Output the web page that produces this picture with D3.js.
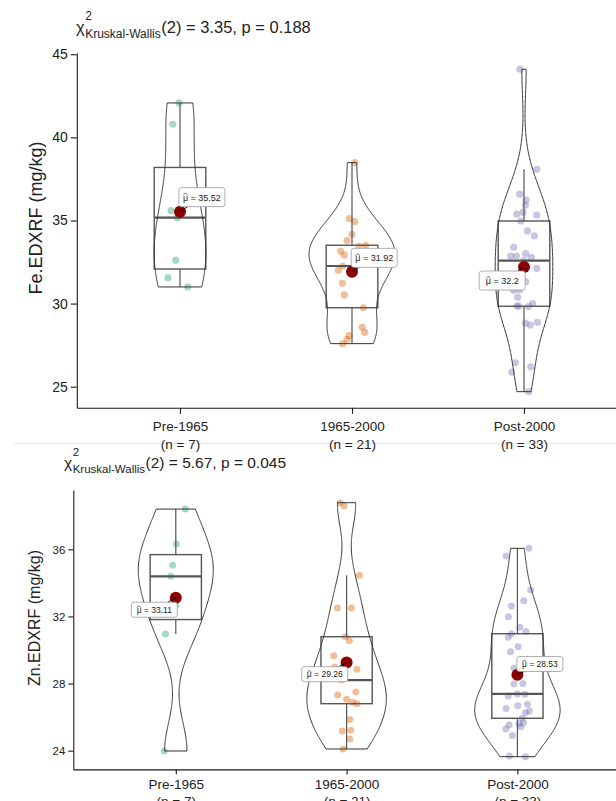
<!DOCTYPE html>
<html>
<head>
<meta charset="utf-8">
<script src="https://cdn.jsdelivr.net/npm/d3@7/dist/d3.min.js"></script>
<style>
html,body{margin:0;padding:0;background:#fff;}
svg{display:block;}
text{font-family:"Liberation Sans",Arial,Helvetica,sans-serif;fill:#222;}
</style>
</head>
<body>
<svg id="chart" width="616" height="801"></svg>
<script>
// ---------------- data ----------------
const categories = ["Pre-1965", "1965-2000", "Post-2000"];
const sampleSizes = [7, 21, 33];

// Fe.EDXRF (mg/kg)
const fePre  = [42.07, 40.79, 35.59, 35.17, 32.6, 31.56, 31.0];
const feMid  = [38.48, 35.11, 34.93, 34.17, 33.79, 33.51, 33.15, 32.92, 32.26, 32.0, 31.22, 30.52, 29.75, 28.57, 28.27, 28.07, 27.85, 27.59, 33.45, 32.7, 32.01];
const fePost = [44.1, 38.08, 36.58, 36.23, 35.93, 35.39, 35.33, 34.97, 34.37, 34.07, 33.39, 32.86, 32.86, 32.78, 32.12, 31.32, 30.82, 30.38, 29.86, 29.82, 28.82, 28.71, 28.87, 26.44, 25.88, 26.2, 24.7, 35.5, 33.0, 32.58, 30.8, 30.0, 29.84];
const feMeans = [35.52, 31.92, 32.2];
const feTest = ["3.35", "0.188"];
const feTicks = [25, 30, 35, 40, 45];

// Zn.EDXRF (mg/kg)
const znPre  = [38.4, 36.32, 35.05, 34.39, 32.67, 30.96, 23.98];
const znMid  = [38.78, 38.6, 34.45, 32.5, 32.5, 30.79, 30.55, 29.66, 28.85, 27.32, 27.5, 27.06, 26.88, 26.8, 25.85, 25.17, 25.21, 24.69, 24.1, 28.99, 28.21];
const znPost = [36.06, 35.6, 33.57, 32.94, 32.62, 31.98, 31.35, 30.97, 30.76, 30.2, 28.91, 28.01, 27.26, 27.36, 26.52, 26.68, 26.76, 26.36, 26.26, 25.93, 25.67, 25.53, 25.29, 25.43, 23.68, 23.64, 31.1, 29.9, 29.3, 27.97, 27.38, 25.6, 24.9];
const znMeans = [33.11, 29.26, 28.53];
const znTest = ["5.67", "0.045"];
const znTicks = [24, 28, 32, 36];

// horizontal jitter of each point (fraction of category step)
const feJitPre  = [-0.006, -0.042, -0.052, -0.016, -0.025, -0.07, 0.045];
const feJitMid  = [0.016, -0.016, 0.016, 0.0, -0.029, 0.08, -0.066, -0.045, -0.054, -0.08, -0.056, -0.045, 0.066, 0.06, 0.074, -0.017, -0.029, -0.054, 0.04, 0.03, 0.01];
const feJitPost = [-0.023, 0.074, -0.025, 0.012, 0.008, -0.042, 0.074, -0.019, 0.02, 0.06, -0.06, -0.077, -0.044, 0.043, 0.074, 0.01, -0.025, -0.037, -0.041, 0.026, 0.008, 0.037, 0.078, -0.05, -0.072, 0.039, 0.027, -0.005, 0.01, 0.0, -0.06, 0.05, -0.03];
const znJitPre  = [0.056, 0.004, -0.018, -0.029, 0.0, -0.061, -0.068];
const znJitMid  = [-0.038, -0.015, 0.075, -0.054, 0.028, -0.007, 0.016, -0.075, 0.06, -0.052, 0.054, 0.0, 0.034, 0.061, 0.019, -0.025, 0.025, 0.019, -0.02, -0.07, -0.03];
const znJitPost = [0.067, -0.066, 0.078, 0.037, -0.035, -0.053, 0.014, -0.035, -0.054, 0.004, -0.02, 0.032, -0.053, 0.043, -0.066, 0.002, 0.059, 0.07, 0.047, 0.028, 0.035, -0.049, -0.068, 0.02, -0.047, 0.047, 0.05, -0.04, 0.06, -0.02, 0.0, 0.01, -0.03];

// ---------------- styles / layout ----------------
const colors = ["#1B9E77", "#D95F02", "#7570B3"];
const svg = d3.select("#chart");

function bwNrd0(x) {
  const s = [...x].sort(d3.ascending);
  const sd = d3.deviation(s);
  const iqr = d3.quantile(s, 0.75) - d3.quantile(s, 0.25);
  let lo = Math.min(sd, iqr / 1.34);
  if (!(lo > 0)) lo = sd || Math.abs(s[0]) || 1;
  return 0.9 * lo * Math.pow(s.length, -0.2);
}
function kde(x, bw, n = 256) {
  const [lo, hi] = d3.extent(x);
  const out = [];
  const k = 1 / (x.length * bw * Math.sqrt(2 * Math.PI));
  for (let i = 0; i < n; i++) {
    const t = lo + (hi - lo) * i / (n - 1);
    let s = 0;
    for (const v of x) { const z = (t - v) / bw; s += Math.exp(-0.5 * z * z); }
    out.push([t, s * k]);
  }
  return out;
}

function statTitle(p, test) {
  const g = svg.append("g").attr("transform", `translate(${p.titleX},${p.titleY})`);
  const chi = g.append("text").attr("font-size", p.titleFs).text("χ");
  const w1 = chi.node().getComputedTextLength();
  g.append("text").attr("x", w1 + 0.5).attr("y", -p.titleFs * 0.78).attr("font-size", p.subFs).text("2");
  const sub = g.append("text").attr("x", w1 + 0.5).attr("y", p.titleFs * 0.32).attr("font-size", p.subFs).text("Kruskal-Wallis");
  const w2 = sub.node().getComputedTextLength();
  g.append("text").attr("x", w1 + 0.5 + w2 + 0.5).attr("font-size", p.titleFs)
    .text(`(2) = ${test[0]}, p = ${test[1]}`);
}

function meanLabel(g, mx, my, off, p, val) {
  const w = p.labW, h = p.labH, fs = p.labFs;
  const cx = mx + off[0], cy = my + off[1];
  const rx0 = cx - w / 2, rx1 = cx + w / 2, ry0 = cy - h / 2, ry1 = cy + h / 2;
  const ddx = cx - mx, ddy = cy - my;
  const tx = ddx > 0 ? (rx0 - mx) / ddx : (rx1 - mx) / ddx;
  const ty = ddy > 0 ? (ry0 - my) / ddy : (ry1 - my) / ddy;
  const t = Math.max(0, Math.min(1, Math.max(tx, ty)));
  g.append("line").attr("x1", mx).attr("y1", my)
    .attr("x2", mx + ddx * t).attr("y2", my + ddy * t)
    .attr("stroke", "#000").attr("stroke-width", 0.9);
  g.append("rect").attr("x", rx0).attr("y", ry0).attr("width", w).attr("height", h)
    .attr("rx", 2.5).attr("fill", "#fff").attr("stroke", "#9a9a9a").attr("stroke-width", 0.8);
  const txt = g.append("text").attr("x", cx).attr("y", cy + fs * 0.38)
    .attr("text-anchor", "middle").attr("font-size", fs).text("μ = " + val);
  const node = txt.node();
  const sp = node.getStartPositionOfChar(0);
  const mw = node.getSubStringLength(0, 1);
  g.append("path")
    .attr("d", `M${sp.x + 0.4},${sp.y - fs * 0.6} L${sp.x + mw / 2},${sp.y - fs * 0.86} L${sp.x + mw - 0.4},${sp.y - fs * 0.6}`)
    .attr("fill", "none").attr("stroke", "#333").attr("stroke-width", 0.7);
}

function drawPanel(p) {
  const g = svg.append("g");
  const x = d3.scalePoint().domain(categories).range([p.left, p.right]).padding(0.6);
  const step = x.step();
  const [lo, hi] = d3.extent(p.groups.flat());
  const pad = (hi - lo) * 0.05;
  const y = d3.scaleLinear().domain([lo - pad, hi + pad]).range([p.bottom, p.top]);

  // jittered points
  p.groups.forEach((vals, i) => {
    const cx = x(categories[i]);
    g.append("g").selectAll("circle").data(vals).join("circle")
      .attr("cx", (d, j) => cx + p.jitters[i][j] * step)
      .attr("cy", d => y(d))
      .attr("r", p.pointR)
      .attr("fill", colors[i]).attr("fill-opacity", 0.4);
  });

  // boxplots
  p.groups.forEach((vals, i) => {
    const cx = x(categories[i]);
    const s = [...vals].sort(d3.ascending);
    const q1 = d3.quantile(s, 0.25), med = d3.quantile(s, 0.5), q3 = d3.quantile(s, 0.75);
    const iqr = q3 - q1;
    const upper = d3.max(s.filter(v => v <= q3 + 1.5 * iqr));
    const lower = d3.min(s.filter(v => v >= q1 - 1.5 * iqr));
    const bw = 0.3 * step;
    const bg = g.append("g").attr("stroke", "#555").attr("fill", "none");
    bg.append("line").attr("x1", cx).attr("x2", cx).attr("y1", y(q3)).attr("y2", y(upper)).attr("stroke-width", 1.2);
    bg.append("line").attr("x1", cx).attr("x2", cx).attr("y1", y(q1)).attr("y2", y(lower)).attr("stroke-width", 1.2);
    bg.append("rect").attr("x", cx - bw / 2).attr("y", y(q3)).attr("width", bw).attr("height", y(q1) - y(q3)).attr("stroke-width", 1.4);
    bg.append("line").attr("x1", cx - bw / 2).attr("x2", cx + bw / 2).attr("y1", y(med)).attr("y2", y(med)).attr("stroke-width", 2.2);
  });

  // violins
  const dens = p.groups.map(v => kde(v, bwNrd0(v)));
  const dmax = d3.max(dens, d => d3.max(d, e => e[1]));
  const half = 0.25 * step;
  dens.forEach((d, i) => {
    const cx = x(categories[i]);
    const area = d3.area()
      .x0(e => cx - e[1] / dmax * half)
      .x1(e => cx + e[1] / dmax * half)
      .y(e => y(e[0]));
    g.append("path").attr("d", area(d))
      .attr("fill", "none").attr("stroke", "#333").attr("stroke-width", 1);
  });

  // axes
  const yAxis = d3.axisLeft(y).tickValues(p.ticks).tickSize(p.tickLen).tickPadding(3).tickSizeOuter(0);
  const ya = g.append("g").attr("transform", `translate(${p.left},0)`).call(yAxis)
    .attr("font-size", p.tickFs).attr("color", "#1a1a1a");
  ya.select(".domain").attr("stroke-width", 1.1);
  ya.selectAll(".tick line").attr("stroke-width", 1.1);

  const xAxis = d3.axisBottom(x).tickSize(p.tickLen).tickSizeOuter(0);
  const xa = g.append("g").attr("transform", `translate(0,${p.bottom})`).call(xAxis)
    .attr("font-size", p.xFs).attr("color", "#1a1a1a");
  xa.select(".domain").attr("stroke-width", 1.1);
  xa.selectAll(".tick line").attr("stroke-width", 1.1);
  xa.selectAll(".tick text").each(function (d, i) {
    const t = d3.select(this).text(null).attr("y", p.xLab1).attr("dy", null);
    t.append("tspan").attr("x", 0).text(d);
    t.append("tspan").attr("x", 0).attr("dy", p.xLineH).text(`(n = ${sampleSizes[i]})`);
  });

  // y title
  svg.append("text")
    .attr("transform", `translate(${p.yTitleX},${p.yTitleY}) rotate(-90)`)
    .attr("text-anchor", "middle").attr("font-size", p.yTitleFs).text(p.yTitle);

  // means + labels
  p.means.forEach((m, i) => {
    const mx = x(categories[i]), my = y(m);
    g.append("circle").attr("cx", mx).attr("cy", my).attr("r", p.meanR).attr("fill", "#8B0000");
  });
  p.means.forEach((m, i) => {
    meanLabel(g, x(categories[i]), y(m), p.labOff[i], p, m);
  });

  statTitle(p, p.test);
}

// separator between the two stacked figures
svg.append("line").attr("x1", 14).attr("x2", 616).attr("y1", 443.5).attr("y2", 443.5)
  .attr("stroke", "#e6e6e6").attr("stroke-width", 1);

drawPanel({
  groups: [fePre, feMid, fePost], jitters: [feJitPre, feJitMid, feJitPost],
  means: feMeans, test: feTest, ticks: feTicks, yTitle: "Fe.EDXRF (mg/kg)",
  left: 76.8, right: 627.2, top: 53.1, bottom: 407.8,
  tickLen: 6, tickFs: 14, xFs: 13.5, xLab1: 23.2, xLineH: 18,
  yTitleX: 42, yTitleY: 218, yTitleFs: 18,
  titleX: 76, titleY: 33, titleFs: 16.5, subFs: 12,
  pointR: 3.6, meanR: 6,
  labW: 46, labH: 19, labFs: 9,
  labOff: [[21.9, -14.7], [22.2, -13.8], [-21.8, 13.5]]
});

drawPanel({
  groups: [znPre, znMid, znPost], jitters: [znJitPre, znJitMid, znJitPost],
  means: znMeans, test: znTest, ticks: znTicks, yTitle: "Zn.EDXRF (mg/kg)",
  left: 73.3, right: 619.9, top: 490, bottom: 769.4,
  tickLen: 5, tickFs: 11.5, xFs: 13.5, xLab1: 19.6, xLineH: 17.5,
  yTitleX: 40, yTitleY: 618, yTitleFs: 16,
  titleX: 64, titleY: 468, titleFs: 15.5, subFs: 11.5,
  pointR: 3.5, meanR: 6,
  labW: 46, labH: 15, labFs: 8.5,
  labOff: [[-21.5, 11.9], [-21.8, 11.8], [22.4, -10.7]]
});
</script>
</body>
</html>
